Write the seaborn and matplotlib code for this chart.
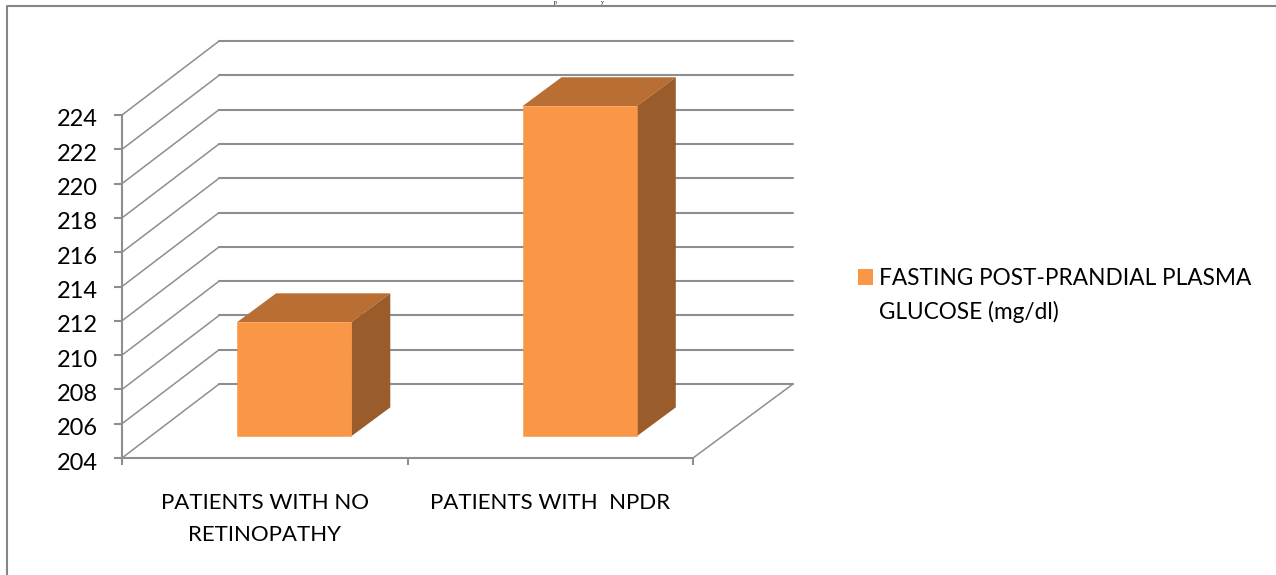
import matplotlib
matplotlib.use("Agg")
import matplotlib.pyplot as plt
import pandas as pd
import seaborn as sns
from matplotlib.legend_handler import HandlerPatch
from matplotlib.lines import Line2D
from matplotlib.patches import Patch, Polygon, Rectangle
from matplotlib.transforms import ScaledTranslation

groups = ["PATIENTS WITH NO\nRETINOPATHY", "PATIENTS WITH  NPDR"]
glucose = [210.65, 223.25]
series_name = "FASTING POST-PRANDIAL PLASMA\nGLUCOSE (mg/dl)"
value_ticks = [204, 206, 208, 210, 212, 214, 216, 218, 220, 222, 224]

FACE, TOP, SIDE = "#F99746", "#B96F33", "#9A5C2B"
GRID = "#8E8E8E"
TEXT = "#000000"

sns.set_theme(style="white")
plt.rcParams["font.family"] = ["Lato", "DejaVu Sans"]

W, H = 1276, 575
fig = plt.figure(figsize=(W / 100, H / 100), dpi=100, facecolor="white")
ax = fig.add_axes([122 / W, 1 - 458 / H, (693 - 122) / W, (458 - 115) / H])
ax.patch.set_visible(False)
ax.set_xlim(-0.5, 1.5)
ax.set_ylim(204, 224)

# Oblique view: depth d in 0..1 shifts a point up and to the right
DEPTH_X, DEPTH_Y = 0.35, 4.31
LEFT_WALL_X = 0.34
BAR_NEAR, BAR_FAR = 0.295, 0.685


def project(x, y, d):
    return x + d * DEPTH_X, y + d * DEPTH_Y


# Walls and floor
wall_left = -0.5 + LEFT_WALL_X
for v in value_ticks:
    far_y = v + DEPTH_Y
    far_right = project(1.5, v, 1)[0]
    ax.add_line(Line2D([-0.5, wall_left], [v, far_y], color=GRID, lw=1.1,
                       clip_on=False, zorder=1))
    ax.add_line(Line2D([wall_left, far_right], [far_y, far_y], color=GRID, lw=1.5,
                       clip_on=False, zorder=1))
p0, p1 = project(1.5, 204, 0), project(1.5, 204, 1)
ax.add_line(Line2D([p0[0], p1[0]], [p0[1], p1[1]], color=GRID, lw=1.1,
                   clip_on=False, zorder=1))

# Front faces come from the bar plot, then move to their place on the floor
frame = pd.DataFrame({"group": groups, "glucose": glucose})
sns.barplot(data=frame, x="group", y="glucose", order=groups, color=FACE,
            saturation=1, width=0.4, ax=ax, zorder=4)
ax.set_xlim(-0.5, 1.5)
ax.set_ylim(204, 224)

near_x, near_y = project(0, 0, BAR_NEAR)
for patch, value in zip(ax.patches, glucose):
    patch.set_x(patch.get_x() + near_x)
    patch.set_y(204 + near_y)
    patch.set_height(value - 204)
    patch.set_clip_on(False)
    patch.set_edgecolor(FACE)
    patch.set_linewidth(0.4)
    left, right = patch.get_x(), patch.get_x() + patch.get_width()
    top = patch.get_y() + patch.get_height()
    bottom = patch.get_y()
    shift_x = (BAR_FAR - BAR_NEAR) * DEPTH_X
    shift_y = (BAR_FAR - BAR_NEAR) * DEPTH_Y
    ax.add_patch(Polygon([(left, top), (right, top),
                          (right + shift_x, top + shift_y),
                          (left + shift_x, top + shift_y)],
                         facecolor=TOP, edgecolor="none", clip_on=False, zorder=3))
    ax.add_patch(Polygon([(right, bottom), (right, top),
                          (right + shift_x, top + shift_y),
                          (right + shift_x, bottom + shift_y)],
                         facecolor=SIDE, edgecolor="none", clip_on=False, zorder=3))

# Axes and ticks
for name in ("top", "right"):
    ax.spines[name].set_visible(False)
for name in ("left", "bottom"):
    ax.spines[name].set_color(GRID)
    ax.spines[name].set_linewidth(1.5)
ax.set_xlabel("")
ax.set_ylabel("")
ax.set_yticks(value_ticks)
ax.set_xticks([-0.5, 0.5, 1.5])
ax.set_xticklabels([])
ax.set_xticks([0, 1], labels=groups, minor=True)
ax.tick_params(axis="y", length=5.5, width=1.5, color=GRID, labelsize=17,
               labelcolor=TEXT, pad=12, left=True)
ax.tick_params(axis="x", which="major", length=5, width=1.5, color=GRID, bottom=True)
ax.tick_params(axis="x", which="minor", length=0, labelsize=16, labelcolor=TEXT, pad=25)
for label in ax.get_xticklabels(minor=True):
    label.set_linespacing(1.75)
nudge = ScaledTranslation(0, -3 / 100, fig.dpi_scale_trans)
for label in ax.get_yticklabels():
    label.set_transform(label.get_transform() + nudge)


# The legend swatch sits beside the first line of its two-line label
def first_line_swatch(legend, orig_handle, xdescent, ydescent, width, height, fontsize):
    return Rectangle((-xdescent, -ydescent + 13.9), width, height)


legend = fig.legend(handles=[Patch(facecolor=FACE, edgecolor="none", label=series_name)],
                    loc="upper left", bbox_to_anchor=(858 / W, 1 - 268 / H),
                    frameon=False, fontsize=16.3, handlelength=0.66, handleheight=0.66,
                    handletextpad=0.25, borderpad=0, borderaxespad=0, labelspacing=0,
                    handler_map={Patch: HandlerPatch(patch_func=first_line_swatch)})
for t in legend.get_texts():
    t.set_color(TEXT)
    t.set_linespacing(1.68)

# Small letters in the narrow strip above the chart frame
for letter, px in (("p", 554), ("y", 601)):
    fig.text(px / W, 1 - 5.2 / H, letter, family="Liberation Serif", fontsize=4.2,
             color=TEXT, ha="left", va="bottom")

# Chart frame, open on the right and at the bottom
fig.add_artist(Line2D([7 / W, 7 / W, 1], [0, 1 - 6 / H, 1 - 6 / H],
                      transform=fig.transFigure, color="#858585", lw=1.5))

fig.savefig("out.png", dpi=100)
